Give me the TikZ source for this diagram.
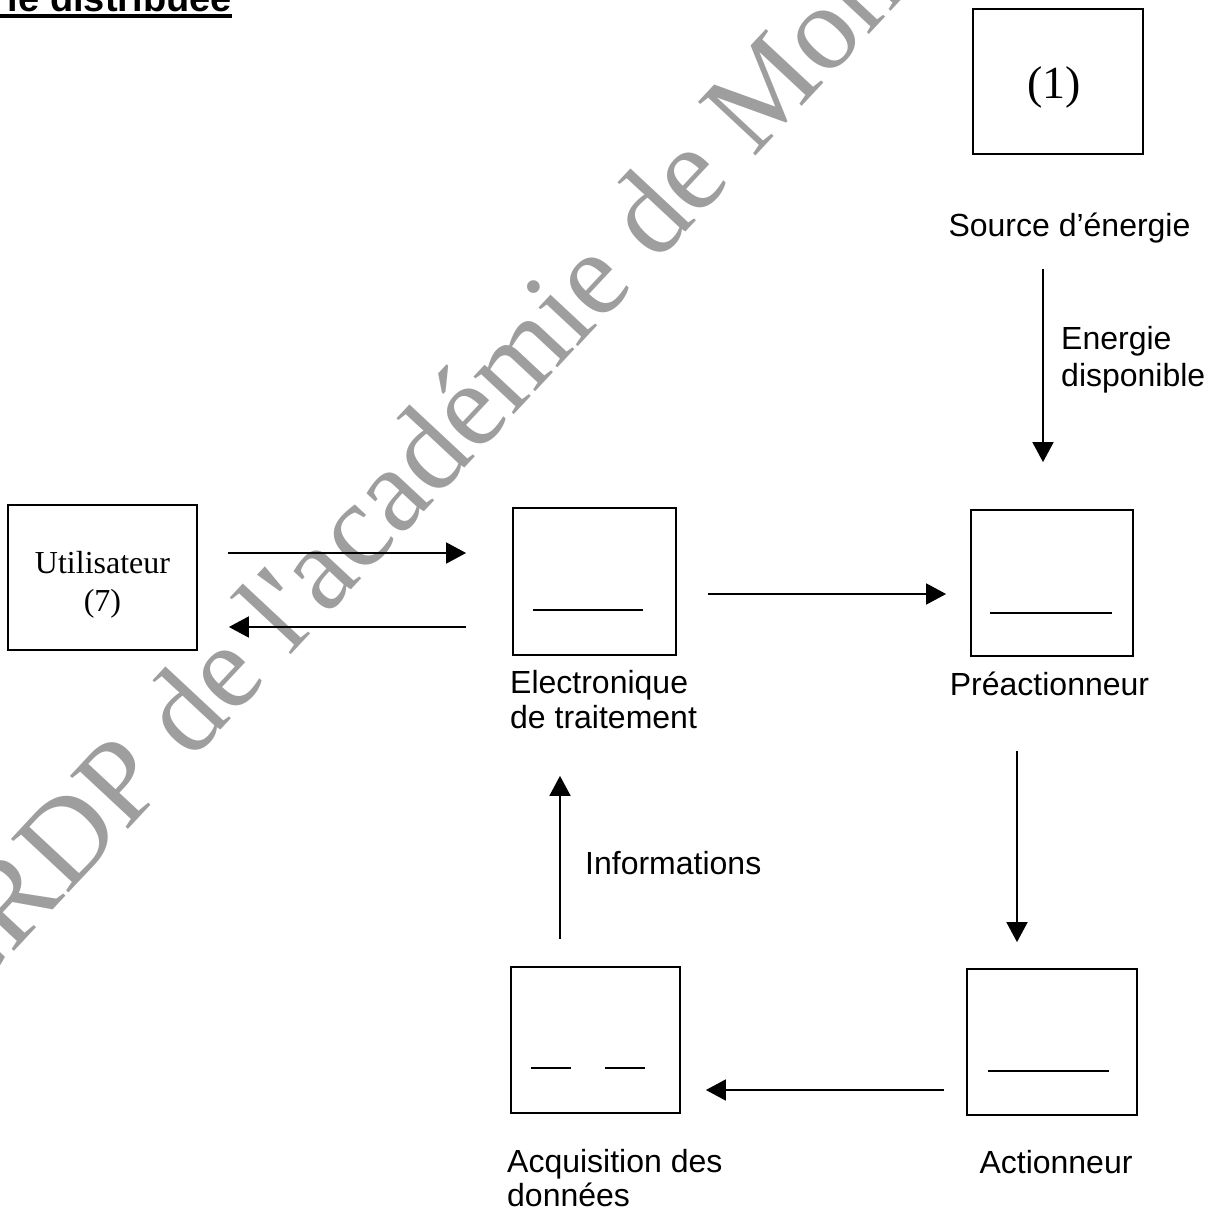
\documentclass[tikz,border=0pt]{standalone}
\usepackage{fontspec}
\setmainfont{Liberation Sans}
\newfontfamily\timesfont{Liberation Serif}
\usetikzlibrary{arrows.meta,calc}

\begin{document}
\begin{tikzpicture}[x=1pt,y=-1pt,
    box/.style={draw,line width=1.8pt,inner sep=0pt},
    lbl/.style={font=\fontsize{32}{34}\selectfont,inner sep=0pt,align=left},
    fl/.style={line width=1.8pt,-{Triangle[length=20pt,width=21pt]}}]
  \useasboundingbox (0,0) rectangle (1219,1209);
  \clip (0,0) rectangle (1219,1209);

  % filigrane
  \node[text=black!38,font=\timesfont\fontsize{120}{120}\selectfont,rotate=47,
        anchor=base west,inner sep=0pt] (wm) at (-43,1013)
        {CRDP de l\textquotesingle académie de Montpellier};

  % titre
  \node[font=\bfseries\fontsize{38}{40}\selectfont,anchor=base east,inner sep=0pt] (title) at (232,12) {ie distribuée};
  \draw[line width=3.5pt] ([yshift=-4pt]title.base east) -- ++(-240,0);

  % blocs
  \node[box,minimum width=170pt,minimum height=145pt] (src) at (1058,81.5)
        {\timesfont\fontsize{46}{46}\selectfont\hspace*{-8pt}\rule{0pt}{44pt}(1)};
  \node[box,minimum width=189pt,minimum height=145pt,align=center,
        font=\timesfont\fontsize{32}{38}\selectfont] (util) at (102.5,577.5) {\rule{0pt}{36pt}Utilisateur\\(7)};
  \node[box,minimum width=163pt,minimum height=147pt] (elec) at (594.5,581.5) {};
  \node[box,minimum width=162pt,minimum height=146pt] (pre) at (1052,583) {};
  \node[box,minimum width=169pt,minimum height=146pt] (acq) at (595.5,1040) {};
  \node[box,minimum width=170pt,minimum height=146pt] (act) at (1052,1042) {};

  % traits dans les blocs
  \draw[line width=1.5pt] ($(elec.center)+(-61.5,28.5)$) -- ++(110,0);
  \draw[line width=1.5pt] ($(pre.center)+(-62,30)$) -- ++(122,0);
  \draw[line width=1.5pt] ($(acq.center)+(-64.5,28)$) -- ++(40,0);
  \draw[line width=1.5pt] ($(acq.center)+(9.5,28)$) -- ++(40,0);
  \draw[line width=1.5pt] ($(act.center)+(-64,29)$) -- ++(121,0);

  % textes
  \node[lbl,anchor=base] (srclbl) at (1069.5,237) {Source d’énergie};
  \node[lbl,anchor=north west,font=\fontsize{32}{37}\selectfont] (enlbl) at (1061,326) {Energie\\disponible};
  \node[lbl,anchor=north west,font=\fontsize{32}{35}\selectfont] (eleclbl) at (510,670) {Electronique\\de traitement};
  \node[lbl,anchor=base] (prelbl) at (1049.5,695) {Préactionneur};
  \node[lbl,anchor=base west] (infolbl) at (585,874) {Informations};
  \node[lbl,anchor=north west] (acqlbl) at (507,1149) {Acquisition des\\données};
  \node[lbl,anchor=base] (actlbl) at (1056,1173) {Actionneur};

  % fleches
  \draw[fl,shorten <=114pt,shorten >=47pt] ([xshift=-15pt]src.south) -- ([xshift=-9pt]pre.north);
  \draw[fl,shorten <=30pt,shorten >=46pt] ([yshift=24.5pt]util.east) -- ([yshift=28.5pt]elec.west);
  \draw[fl,shorten <=46pt,shorten >=31pt] ([yshift=-45.5pt]elec.west) -- ([yshift=-49.5pt]util.east);
  \draw[fl,shorten <=31pt,shorten >=24pt] ([yshift=-12.5pt]elec.east) -- ([yshift=-11pt]pre.west);
  \draw[fl,shorten <=94pt,shorten >=26pt] ([xshift=-35pt]pre.south) -- ([xshift=-35pt]act.north);
  \draw[fl,shorten <=22pt,shorten >=25pt] ([yshift=-48pt]act.west) -- ([yshift=-50pt]acq.east);
  \draw[fl,shorten <=27pt,shorten >=120pt] ([xshift=-35.5pt]acq.north) -- ([xshift=-34.5pt]elec.south);
\end{tikzpicture}
\end{document}
